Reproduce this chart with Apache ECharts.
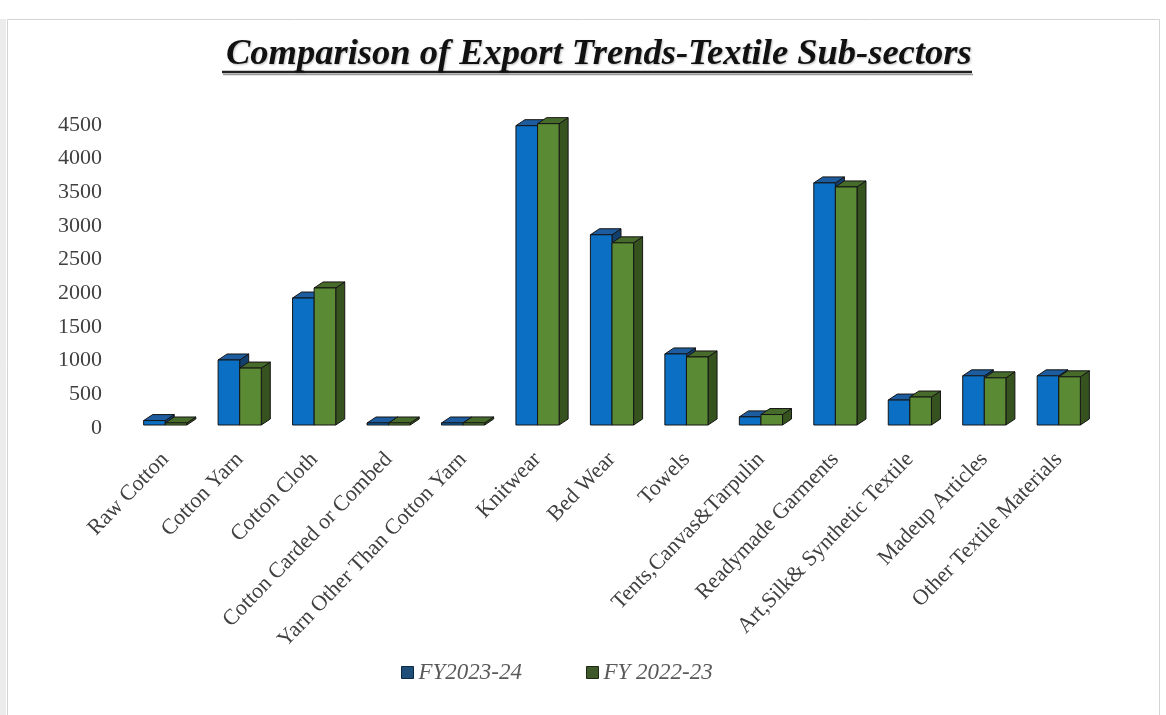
<!DOCTYPE html>
<html>
<head>
<meta charset="utf-8">
<script src="https://cdn.jsdelivr.net/npm/echarts@6/dist/echarts.min.js"></script>
<style>
html,body{margin:0;padding:0;background:#fff;}
#chart{width:1166px;height:715px;}
</style>
</head>
<body>
<div id="chart"></div>
<script>
const categories = ['Raw Cotton','Cotton Yarn','Cotton Cloth','Cotton Carded or Combed','Yarn Other Than Cotton Yarn','Knitwear','Bed Wear','Towels','Tents,Canvas&Tarpulin','Readymade Garments','Art,Silk& Synthetic Textile','Madeup Articles','Other Textile Materials'];
const fy2324 = [110, 1010, 1930, 20, 40, 4490, 2870, 1100, 165, 3640, 415, 775, 775];
const fy2223 = [45, 890, 2080, 10, 75, 4520, 2750, 1055, 200, 3580, 460, 745, 760];
const seriesNames = ['FY2023-24', 'FY 2022-23'];
const yTicks = [0, 500, 1000, 1500, 2000, 2500, 3000, 3500, 4000, 4500];

const palettes = [
  {front:'#0B70C4', side:'#123F6E', top:'#1D5C9E', legend:'#1F4E79'},
  {front:'#5A8A33', side:'#36521F', top:'#476B2A', legend:'#3E5A2A'}
];

function make3D(idx){
  const pal = palettes[idx];
  return function(params, api){
    const cat = api.value(0), val = api.value(1);
    const base = api.coord([cat, 0]);
    const top = api.coord([cat, val]);
    const band = api.size([1, 0])[0];
    const w = band * 0.29;
    const x0 = base[0] - w + idx * w;
    const dx = 9, dy = 6;
    const yB = base[1] - 3;
    const yT = Math.min(top[1], yB - 2);
    const stroke = {stroke:'#151515', lineWidth:1};
    return {
      type:'group',
      children:[
        {type:'polygon', shape:{points:[[x0+w,yT],[x0+w+dx,yT-dy],[x0+w+dx,yB-dy],[x0+w,yB]]}, style:Object.assign({fill:pal.side}, stroke)},
        {type:'polygon', shape:{points:[[x0,yT],[x0+dx,yT-dy],[x0+w+dx,yT-dy],[x0+w,yT]]}, style:Object.assign({fill:pal.top}, stroke)},
        {type:'rect', shape:{x:x0, y:yT, width:w, height:yB-yT}, style:Object.assign({fill:pal.front}, stroke)}
      ]
    };
  };
}

const chart = echarts.init(document.getElementById('chart'));
chart.setOption({
  animation:false,
  backgroundColor:'#ffffff',
  title:{
    text:'Comparison of Export Trends-Textile Sub-sectors',
    left:221, top:31,
    textStyle:{fontFamily:'Liberation Serif', fontWeight:'bold', fontStyle:'italic', fontSize:36.5, color:'#111',
      textShadowColor:'rgba(0,0,0,0.25)', textShadowBlur:2, textShadowOffsetX:1, textShadowOffsetY:1}
  },
  graphic:[
    {type:'rect', shape:{x:7.5, y:19.5, width:1152, height:720}, style:{fill:'none', stroke:'#d4d4d4', lineWidth:1}, silent:true, z:-1},
    {type:'rect', shape:{x:0, y:19, width:6, height:700}, style:{fill:'#ececec'}, silent:true, z:-1},
    {type:'line', shape:{x1:222, y1:72, x2:972, y2:72}, style:{stroke:'#222', lineWidth:2.5}, silent:true},
    {type:'line', shape:{x1:223, y1:74.5, x2:973, y2:74.5}, style:{stroke:'#999', lineWidth:1.5}, silent:true}
  ],
  legend:{
    top:656, left:396,
    itemWidth:12, itemHeight:12, itemGap:64,
    icon:'rect',
    textStyle:{fontFamily:'Liberation Serif', fontStyle:'italic', fontSize:23, color:'#5a5a5a'},
    data:[
      {name:seriesNames[0], itemStyle:{color:palettes[0].legend, borderColor:'#0d2a45', borderWidth:1}},
      {name:seriesNames[1], itemStyle:{color:palettes[1].legend, borderColor:'#1c2a12', borderWidth:1}}
    ]
  },
  grid:{left:128, right:70, top:125, bottom:287, containLabel:false},
  xAxis:{
    type:'category',
    data:categories,
    axisLine:{show:false}, axisTick:{show:false},
    axisLabel:{rotate:46, interval:0, margin:28, fontFamily:'Liberation Serif', fontSize:22, color:'#404040'}
  },
  yAxis:{
    type:'value', min:0, max:4500, interval:500,
    axisLine:{show:false}, axisTick:{show:false}, splitLine:{show:false},
    axisLabel:{margin:26, fontFamily:'Liberation Serif', fontSize:22, color:'#404040',
      formatter:function(v){ return yTicks.indexOf(v) >= 0 ? String(v) : ''; }}
  },
  series:[
    {name:seriesNames[0], type:'custom', renderItem:make3D(0), itemStyle:{color:palettes[0].legend},
      encode:{x:0, y:1}, data:categories.map((c,i)=>[i, fy2324[i]])},
    {name:seriesNames[1], type:'custom', renderItem:make3D(1), itemStyle:{color:palettes[1].legend},
      encode:{x:0, y:1}, data:categories.map((c,i)=>[i, fy2223[i]])}
  ]
});
</script>
</body>
</html>
